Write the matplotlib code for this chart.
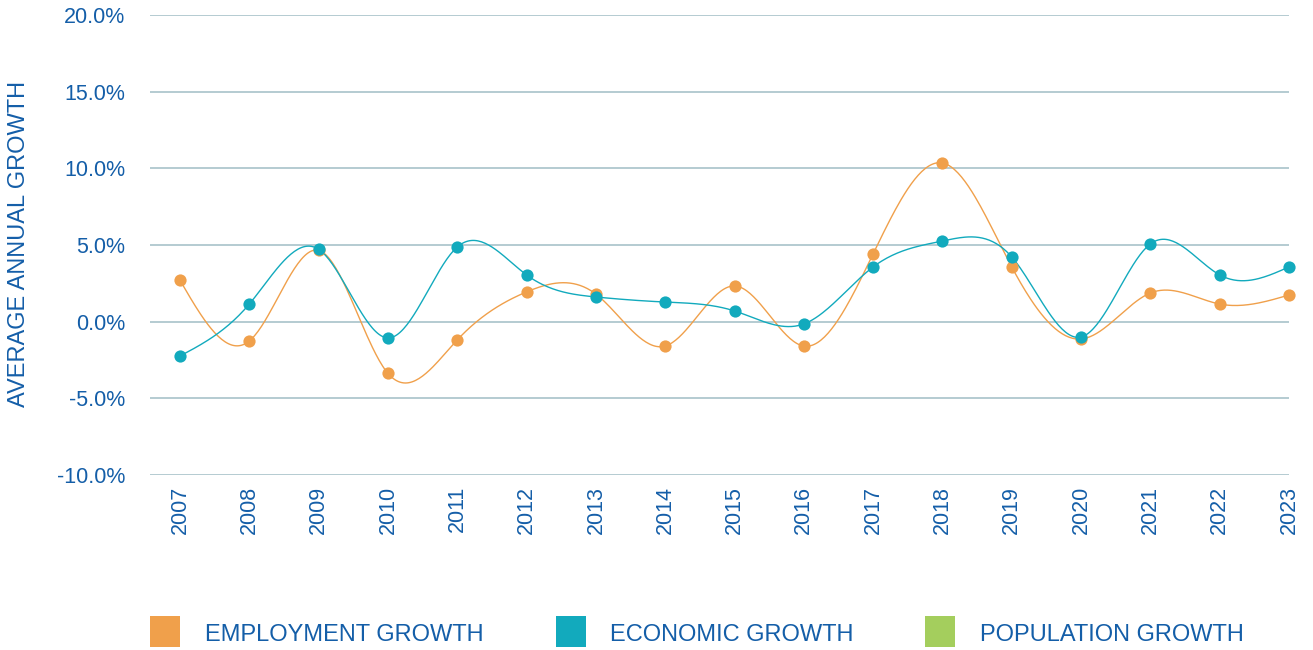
import numpy as np
import matplotlib
matplotlib.use("Agg")
import matplotlib.pyplot as plt
from matplotlib.patches import Rectangle
from matplotlib.ticker import FuncFormatter

plt.rcParams['font.family'] = ['Liberation Sans', 'DejaVu Sans']

years = list(range(2007, 2024))
employment = [2.7, -1.26, 4.65, -3.37, -1.19, 1.94, 1.8, -1.59, 2.33, -1.59,
              4.42, 10.35, 3.57, -1.13, 1.87, 1.15, 1.74]
economic = [-2.24, 1.15, 4.72, -1.06, 4.87, 3.05, 1.61, 1.28, 0.7, -0.15,
            3.57, 5.26, 4.22, -1.0, 5.07, 3.05, 3.57]
population = []
legend_labels = ["EMPLOYMENT GROWTH", "ECONOMIC GROWTH", "POPULATION GROWTH"]
colors = ["#F0A04B", "#12AABD", "#A4CE5D"]
text_color = "#145EA8"
grid_color = "#AFC7CE"


def natural_spline(x, y, n=40):
    x = np.asarray(x, float)
    y = np.asarray(y, float)
    N = len(x)
    h = np.diff(x)
    A = np.zeros((N, N))
    b = np.zeros(N)
    A[0, 0] = 1
    A[-1, -1] = 1
    for i in range(1, N - 1):
        A[i, i - 1] = h[i - 1]
        A[i, i] = 2 * (h[i - 1] + h[i])
        A[i, i + 1] = h[i]
        b[i] = 6 * ((y[i + 1] - y[i]) / h[i] - (y[i] - y[i - 1]) / h[i - 1])
    M = np.linalg.solve(A, b)
    xs, ys = [], []
    for i in range(N - 1):
        t = np.linspace(x[i], x[i + 1], n, endpoint=(i == N - 2))
        a = x[i + 1] - t
        bb = t - x[i]
        s = (M[i] * a ** 3 + M[i + 1] * bb ** 3) / (6 * h[i]) \
            + (y[i] / h[i] - M[i] * h[i] / 6) * a \
            + (y[i + 1] / h[i] - M[i + 1] * h[i] / 6) * bb
        xs.append(t)
        ys.append(s)
    return np.concatenate(xs), np.concatenate(ys)


fig = plt.figure(figsize=(13.13, 6.5), dpi=100)
ax = fig.add_axes([150 / 1313, 175 / 650, 1139 / 1313, 460 / 650])

for vals, col, z in [(employment, colors[0], 3), (economic, colors[1], 4)]:
    sx, sy = natural_spline(years, vals)
    ax.plot(sx, sy, color=col, lw=1.0, zorder=z, clip_on=False)
    ax.plot(years, vals, 'o', color=col, ms=8.8, mec='none', zorder=z + 2, clip_on=False)

ax.set_xlim(2007 - 30 / 69.31, 2023)
ax.set_ylim(-10, 20)
ax.set_yticks(np.arange(-10, 21, 5))
ax.yaxis.set_major_formatter(FuncFormatter(lambda v, p: f"{v:.1f}%"))
ax.set_xticks(years)
ax.set_xticklabels([str(y) for y in years], rotation=90)
ax.grid(axis='y', color=grid_color, lw=1.3)
ax.set_axisbelow(True)
for s in ax.spines.values():
    s.set_visible(False)
ax.tick_params(axis='both', length=0, labelsize=15.5, labelcolor=text_color)
ax.tick_params(axis='y', pad=18)
ax.tick_params(axis='x', pad=8)
for lab in ax.get_xticklabels():
    lab.set_x(lab.get_position()[0])

fig.text(19 / 1313, 1 - 244 / 650, "AVERAGE ANNUAL GROWTH", rotation=90,
         ha='center', va='center', fontsize=17, color=text_color)

sq_x = [150, 556, 925]
tx_x = [205, 610, 980]
for lbl, col, sx_, tx_ in zip(legend_labels, colors, sq_x, tx_x):
    fig.add_artist(Rectangle((sx_ / 1313, 3.5 / 650), 30 / 1313, 30.5 / 650,
                             transform=fig.transFigure, color=col, lw=0))
    fig.text(tx_ / 1313, 1 - 635 / 650, lbl, ha='left', va='center',
             fontsize=17, color=text_color)

fig.savefig("out.png", dpi=100)
